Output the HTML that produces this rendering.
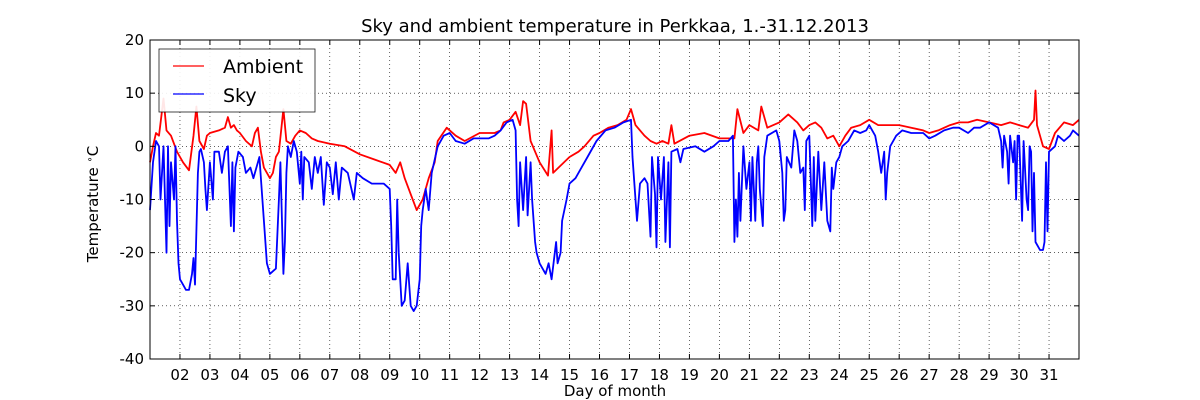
<!DOCTYPE html>
<html><head><meta charset="utf-8">
<style>
body{margin:0;background:#fff;}
svg{display:block;font-family:"DejaVu Sans","Liberation Sans",sans-serif;}
</style></head>
<body>
<svg id="chart" width="1200" height="400" viewBox="0 0 1200 400">
<rect width="1200" height="400" fill="#fff"/>
<text x="615" y="32" font-size="18" text-anchor="middle">Sky and ambient temperature in Perkkaa, 1.-31.12.2013</text>
<g id="grid"></g>
<g id="series"></g>
<rect x="150" y="40" width="929" height="319" fill="none" stroke="#000" stroke-width="1"/>
<g id="ticks"></g>
<text x="615" y="396" font-size="15" text-anchor="middle">Day of month</text>
<text x="0" y="0" font-size="15" text-anchor="middle" transform="translate(98,204) rotate(-90)">Temperature <tspan baseline-shift="super" font-size="10">∘</tspan>C</text>
<g>
<rect x="159" y="49" width="156" height="63" fill="#fff" stroke="#000" stroke-width="0.8" opacity="0.9"/>
<line x1="173" y1="66" x2="204" y2="66" stroke="#f00" stroke-width="1.2"/>
<text x="223" y="73" font-size="19">Ambient</text>
<line x1="173" y1="94" x2="204" y2="94" stroke="#00f" stroke-width="1.2"/>
<text x="223" y="102" font-size="19">Sky</text>
</g>
</svg>
<script>
const yTicks=[20,10,0,-10,-20,-30,-40];
const dayTicks=[2,3,4,5,6,7,8,9,10,11,12,13,14,15,16,17,18,19,20,21,22,23,24,25,26,27,28,29,30,31];
const ambientT=[1.0,1.1,1.2,1.3,1.45,1.55,1.7,1.9,2.1,2.3,2.45,2.55,2.65,2.8,2.9,3.0,3.3,3.5,3.6,3.7,3.8,3.9,4.0,4.2,4.4,4.5,4.6,4.7,4.8,5.0,5.1,5.2,5.3,5.45,5.55,5.7,5.85,6.0,6.2,6.4,6.6,7.0,7.5,8.0,8.5,9.0,9.2,9.35,9.5,9.7,9.9,10.1,10.3,10.5,10.6,10.9,11.2,11.5,12.0,12.3,12.5,12.7,12.8,13.0,13.2,13.35,13.45,13.55,13.7,14.0,14.28,14.4,14.45,15.0,15.3,15.5,15.8,16.0,16.3,16.6,16.9,17.05,17.2,17.5,17.7,17.9,18.1,18.3,18.4,18.5,19.0,19.5,20.0,20.5,20.6,20.8,21.0,21.3,21.4,21.6,22.0,22.3,22.6,22.8,23.0,23.2,23.4,23.6,23.8,24.0,24.2,24.4,24.7,25.0,25.3,25.6,26.0,26.4,26.8,27.0,27.3,27.7,28.0,28.3,28.6,29.0,29.4,29.7,30.0,30.3,30.5,30.55,30.6,30.8,31.0,31.2,31.5,31.8,32.0];
const ambientV=[-3,0,2.5,2,9,3,2,-1,-3,-4.5,2,7.5,1,-0.5,2,2.5,3,3.5,5.5,3.5,4,3,2.5,1,0,2.5,3.5,-1,-4,-6,-5,-2,-1,7,1,0.5,2,3,2.5,1.5,1,0.5,0,-1.5,-2.5,-3.5,-5,-3,-6,-9,-12,-10,-6,-3,1,3.5,2,1,2.5,2.5,2.5,3,4.5,5,6.5,4,8.5,8,1,-3,-5.5,3,-5,-2,-1,0,2,2.5,3.5,4,5,7,4,2,1,0.5,1,0.5,4,0.5,2,2.5,1.5,1.5,7,2.5,4,3,7.5,3.5,4.5,6,4.5,3,4,4.5,3.5,1.5,2,0,2,3.5,4,5,4,4,4,3.5,3,2.5,3,4,4.5,4.5,5,4.5,4,4.5,4,3.5,5,10.5,4,0,-0.5,2.5,4.5,4,5];
const skyT=[1.0,1.1,1.2,1.3,1.35,1.45,1.55,1.6,1.65,1.7,1.8,1.85,1.9,1.95,2.0,2.1,2.2,2.3,2.4,2.45,2.5,2.6,2.65,2.7,2.8,2.85,2.9,3.0,3.1,3.15,3.3,3.4,3.5,3.6,3.7,3.75,3.8,3.85,3.95,4.1,4.2,4.35,4.45,4.55,4.65,4.8,4.9,5.0,5.2,5.3,5.35,5.45,5.5,5.55,5.6,5.7,5.8,5.9,6.0,6.05,6.1,6.15,6.3,6.4,6.5,6.6,6.7,6.8,6.9,7.0,7.1,7.2,7.3,7.4,7.6,7.8,7.9,8.1,8.4,8.8,9.0,9.05,9.1,9.2,9.25,9.3,9.4,9.5,9.6,9.7,9.8,9.9,10.0,10.05,10.1,10.2,10.3,10.4,10.6,10.8,11.0,11.2,11.5,11.8,12.0,12.3,12.5,12.7,12.9,13.1,13.2,13.25,13.3,13.35,13.45,13.55,13.6,13.7,13.75,13.85,13.9,14.0,14.2,14.3,14.4,14.55,14.6,14.7,14.75,14.9,15.0,15.2,15.4,15.6,15.9,16.2,16.5,16.8,17.05,17.1,17.2,17.25,17.35,17.5,17.6,17.7,17.75,17.85,17.9,17.95,18.05,18.15,18.2,18.3,18.35,18.4,18.6,18.7,18.8,19.2,19.5,19.8,20.0,20.3,20.45,20.5,20.55,20.6,20.65,20.7,20.8,20.9,21.0,21.05,21.1,21.2,21.25,21.3,21.35,21.45,21.5,21.6,21.9,22.0,22.1,22.15,22.2,22.25,22.4,22.5,22.6,22.7,22.8,22.85,22.9,23.0,23.1,23.15,23.2,23.3,23.4,23.5,23.6,23.7,23.75,23.8,23.9,24.0,24.1,24.3,24.5,24.7,24.9,25.0,25.2,25.3,25.4,25.5,25.55,25.6,25.7,25.9,26.1,26.4,26.8,27.0,27.2,27.5,27.8,28.0,28.3,28.5,28.7,29.0,29.3,29.4,29.45,29.5,29.6,29.65,29.7,29.8,29.85,29.9,29.95,30.0,30.1,30.15,30.25,30.3,30.35,30.4,30.45,30.5,30.55,30.65,30.7,30.8,30.85,30.9,30.95,31.0,31.2,31.3,31.5,31.7,31.8,32.0];
const skyV=[-12,-3,1,0,-10,0,-20,0,-15,-3,-10,0,-14,-22,-25,-26,-27,-27,-24,-21,-26,-5,-1,-0.5,-3,-8,-12,-3,-10,-1,-1,-5,-1,0,-15,-3,-16,-4,-1,-2,-5,-4,-6,-4,-2,-14,-22,-24,-23,-10,-3,-24,-18,-5,0,-2,1,-1,-7,-1,-10,-2,-3,-8,-2,-5,-2,-11,-3,-4,-9,-3,-10,-4,-5,-10,-5,-6,-7,-7,-8,-15,-25,-25,-10,-20,-30,-29,-22,-30,-31,-30,-25,-15,-12,-8,-12,-5,0,2,2.5,1,0.5,1.5,1.5,1.5,2,3,4.5,5,3,-10,-15,-3,-12,-2,-13,-3,-10,-18,-20,-22,-24,-22,-25,-18,-22,-20,-14,-10,-7,-6,-4,-2,1,3,3.5,4.5,5,-2,-10,-14,-7,-6,-7,-17,-2,-9,-19,-2,-10,-2,-18,-3,-19,-1,-0.5,-3,-0.5,0,-1,0,1,1,2,-18,-10,-17,-5,-14,0,-8,-3,-14,-2,-14,-3,0,-8,-15,-2,2,3,1,-5,-14,-12,-2,-4,3,1,-5,-4,-12,1,2,-15,-2,-14,-1,-12,-3,-14,-16,-4,-8,-3,-2,0,1,3,2.5,3,4,2,-1,-5,-1,-10,-5,0,2,3,2.5,2.5,1.5,2,3,3.5,3.5,2.5,3.5,3.5,4.5,3.5,1,-4,2,-1,-7,2,-3,1,-10,2,2,-14,1,-10,-12,0,-1,-16,-5,-18,-19,-19.5,-19.5,-18,-3,-16,-1,0,2,1,2,3,2];

const X0=150,X1=1079,Y0=359,Y1=40;
function xScale(d){return X0+(d-1)*(X1-X0)/31;}
function yScale(v){return Y0-(v+40)*(Y0-Y1)/60;}
const NS="http://www.w3.org/2000/svg";
const grid=document.getElementById('grid'),ticks=document.getElementById('ticks'),series=document.getElementById('series');
function mk(tag,attrs,parent){const e=document.createElementNS(NS,tag);for(const k in attrs)e.setAttribute(k,attrs[k]);parent.appendChild(e);return e;}
yTicks.forEach(v=>{
  const y=yScale(v);
  if(v<20&&v>-40){const g=mk('line',{x1:X0,x2:X1,y1:y,y2:y,stroke:'#000','stroke-width':0.6,'stroke-dasharray':'1,3'},grid);
  
  }
  const t1=mk('line',{x1:X0,x2:X0+5,y1:y,y2:y,stroke:'#000'},ticks);
  
  
  const t2=mk('line',{x1:X1-5,x2:X1,y1:y,y2:y,stroke:'#000'},ticks);
  
  
  const lb=mk('text',{x:X0-6,y:y+5,'font-size':15,'text-anchor':'end'},ticks);
  lb.textContent=String(v);
  
  
});
dayTicks.forEach(d=>{
  const x=xScale(d);
  const g=mk('line',{x1:x,x2:x,y1:Y1,y2:Y0,stroke:'#000','stroke-width':0.6,'stroke-dasharray':'1,3'},grid);
  
  
  const t1=mk('line',{x1:x,x2:x,y1:Y0,y2:Y0-5,stroke:'#000'},ticks);
  
  
  const t2=mk('line',{x1:x,x2:x,y1:Y1,y2:Y1+5,stroke:'#000'},ticks);
  
  
  const lb=mk('text',{x:x,y:380,'font-size':15,'text-anchor':'middle'},ticks);
  lb.textContent=(d<10?'0':'')+d;
  
  
});
function line(ts,vs,color,name){
  const pts=ts.map((t,i)=>xScale(t).toFixed(1)+','+yScale(vs[i]).toFixed(1)).join(' ');
  const p=mk('polyline',{points:pts,fill:'none',stroke:color,'stroke-width':1.8,'stroke-linejoin':'round'},series);
  
  
}
line(ambientT,ambientV,'#f00','ambient-line');
line(skyT,skyV,'#00f','sky-line');
</script>
</body></html>
